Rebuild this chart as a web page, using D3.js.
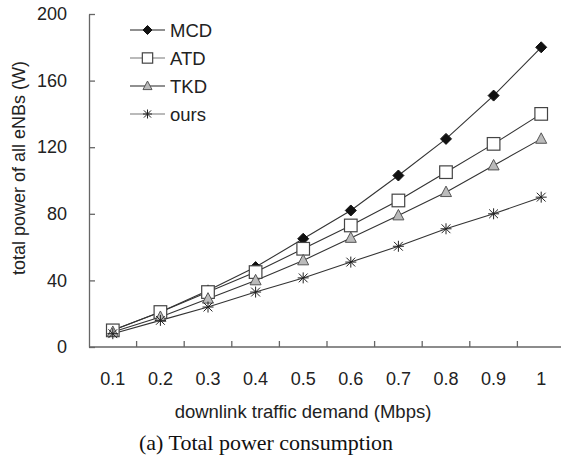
<!DOCTYPE html>
<html lang="en">
<head>
<meta charset="UTF-8">
<title>Total power consumption</title>
<style>
  body { margin: 0; background: #fff; }
  text { font-family: "Liberation Sans", Arial, sans-serif; fill: #222; }
  .caption { font-family: "Liberation Serif", "DejaVu Serif", serif; fill: #111; }
</style>
<script src="https://d3js.org/d3.v7.min.js"></script>
</head>
<body>
<svg width="561" height="461"></svg>
<script>
// data
const demand = ["0.1", "0.2", "0.3", "0.4", "0.5", "0.6", "0.7", "0.8", "0.9", "1"];
const mcd  = [10, 21, 34, 48, 65, 82, 103, 125, 151, 180];
const atd  = [10, 21, 33, 45, 59, 73, 88, 105, 122, 140];
const tkd  = [9, 18, 29, 40, 52, 65.5, 79, 93, 109, 125];
const ours = [8, 16, 24, 33, 41.5, 51, 60.5, 71, 80, 90];
const yTicks = [0, 40, 80, 120, 160, 200];

const series = [
  {name: "MCD", values: mcd, marker: "diamond"},
  {name: "ATD", values: atd, marker: "square"},
  {name: "TKD", values: tkd, marker: "triangle"},
  {name: "ours", values: ours, marker: "star"}
];

const svg = d3.select("svg");
const x = d3.scaleBand().domain(demand).range([89, 565]);
const y = d3.scaleLinear().domain([0, 200]).range([347, 14]);
const axisColor = "#666";

// y axis
const gy = svg.append("g").attr("transform", "translate(89,0)")
  .call(d3.axisLeft(y).tickValues(yTicks).tickSizeInner(-6).tickSizeOuter(0).tickPadding(22));
gy.select(".domain").attr("stroke", axisColor).attr("stroke-width", 1.3);
gy.selectAll(".tick line").attr("stroke", axisColor).attr("stroke-width", 1.3);
gy.selectAll(".tick text").attr("font-size", 18).attr("font-family", "Liberation Sans, Arial, sans-serif").attr("fill", "#222");

// x axis: ticks on category boundaries, labels centred
const gx = svg.append("g").attr("transform", "translate(0,347)");
gx.append("line").attr("x1", 89).attr("x2", 565).attr("stroke", axisColor).attr("stroke-width", 1.3);
gx.selectAll(".xt").data(demand.slice(1)).enter().append("line")
  .attr("x1", d => x(d)).attr("x2", d => x(d))
  .attr("y1", 0).attr("y2", -6)
  .attr("stroke", axisColor).attr("stroke-width", 1.3);
gx.selectAll(".xl").data(demand).enter().append("text")
  .attr("x", d => x(d) + x.bandwidth() / 2)
  .attr("y", 38)
  .attr("text-anchor", "middle")
  .attr("font-size", 18)
  .text(d => d);

// axis titles
svg.append("text")
  .attr("transform", "translate(25,168) rotate(-90)")
  .attr("text-anchor", "middle")
  .attr("font-size", 18)
  .text("total power of all eNBs (W)");
svg.append("text")
  .attr("x", 303).attr("y", 418)
  .attr("text-anchor", "middle")
  .attr("font-size", 18.5)
  .text("downlink traffic demand (Mbps)");
svg.append("text")
  .attr("class", "caption")
  .attr("x", 266).attr("y", 450)
  .attr("text-anchor", "middle")
  .attr("font-size", 22)
  .text("(a) Total power consumption");

function drawMarker(g, type, k) {
  if (type === "diamond") {
    const r = 5.5 * k;
    g.append("path").attr("d", `M0,${-r}L${r},0L0,${r}L${-r},0Z`).attr("fill", "#111").attr("stroke", "#111");
  } else if (type === "square") {
    const r = 6.3 * k;
    g.append("rect").attr("x", -r).attr("y", -r).attr("width", 2 * r).attr("height", 2 * r)
      .attr("fill", "#fff").attr("stroke", "#444").attr("stroke-width", 1.2);
  } else if (type === "triangle") {
    const r = 5.5 * k;
    g.append("path").attr("d", `M0,${-r * 1.1}L${r},${r * 0.8}L${-r},${r * 0.8}Z`)
      .attr("fill", "#bbb").attr("stroke", "#555").attr("stroke-width", 1);
  } else {
    const r = 5.5 * k, d = r * 0.8;
    g.append("path").attr("d", `M${-r},0H${r}M0,${-r}V${r}M${-d},${-d}L${d},${d}M${-d},${d}L${d},${-d}`)
      .attr("fill", "none").attr("stroke", "#222").attr("stroke-width", 1);
  }
}

const line = d3.line().x((d, i) => x(demand[i]) + x.bandwidth() / 2).y(d => y(d));

series.forEach(s => {
  svg.append("path").datum(s.values).attr("d", line)
    .attr("fill", "none").attr("stroke", "#333").attr("stroke-width", 1.1);
});
series.forEach(s => {
  s.values.forEach((v, i) => {
    const g = svg.append("g")
      .attr("transform", `translate(${x(demand[i]) + x.bandwidth() / 2},${y(v)})`);
    drawMarker(g, s.marker, 1);
  });
});

// legend
const legend = svg.append("g");
series.forEach((s, i) => {
  const ly = 30 + i * 28;
  legend.append("line").attr("x1", 130).attr("x2", 165).attr("y1", ly).attr("y2", ly)
    .attr("stroke", i % 2 ? "#777" : "#222").attr("stroke-width", 1.1);
  drawMarker(legend.append("g").attr("transform", `translate(147.5,${ly})`), s.marker, 0.82);
  legend.append("text").attr("x", 170).attr("y", ly + 6.5).attr("font-size", 18.5).text(s.name);
});
</script>
</body>
</html>
